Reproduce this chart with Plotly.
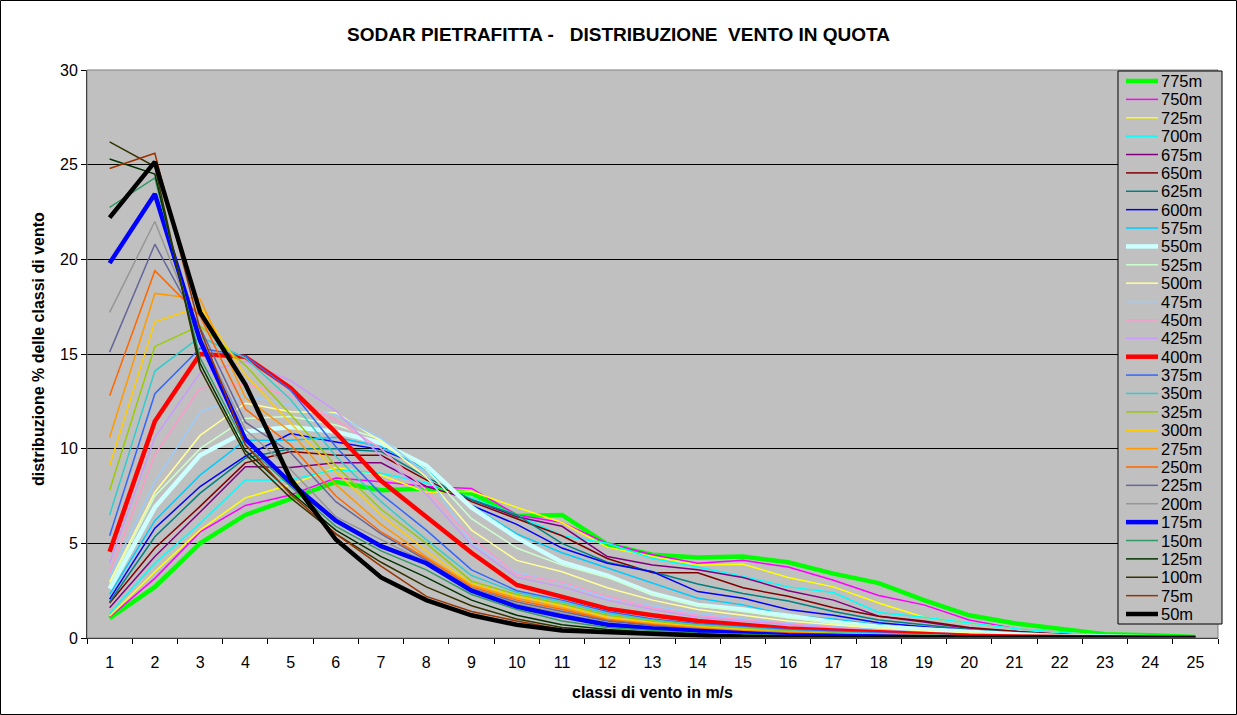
import plotly.graph_objects as go

# Wind-speed classes (m/s) used as category labels on the x axis
classes = [str(i) for i in range(1, 26)]

# Percentage distribution of wind classes for each SODAR height
v775 = [1.05, 2.7, 5.0, 6.5, 7.35, 8.25, 7.8, 7.9, 7.65, 6.45, 6.5, 4.95, 4.4, 4.25, 4.3, 4.0, 3.4, 2.9, 2.0, 1.2, 0.78, 0.47, 0.2, 0.15, 0.05]
v750 = [1.1, 3.15, 5.6, 7.0, 7.55, 8.45, 8.25, 8.0, 7.9, 6.5, 6.1, 5.0, 4.4, 3.95, 4.1, 3.75, 3.05, 2.25, 1.75, 0.95, 0.5, 0.3, 0.15, 0.1, 0.02]
v725 = [1.15, 3.5, 5.7, 7.4, 8.1, 9.0, 8.6, 7.7, 7.75, 6.9, 6.1, 4.8, 4.3, 3.85, 3.9, 3.2, 2.7, 1.85, 1.1, 0.8, 0.5, 0.3, 0.15, 0.08, 0.02]
v700 = [1.3, 3.95, 6.05, 8.35, 8.35, 8.9, 8.7, 8.2, 7.4, 6.5, 5.4, 5.0, 4.2, 3.75, 3.25, 2.7, 2.4, 1.35, 1.1, 0.8, 0.5, 0.3, 0.15, 0.08, 0.02]
v675 = [1.6, 4.3, 6.65, 9.05, 9.0, 9.25, 9.25, 8.0, 7.3, 6.4, 5.9, 4.3, 3.85, 3.6, 3.2, 2.5, 2.0, 1.15, 0.85, 0.5, 0.35, 0.2, 0.1, 0.05, 0.01]
v650 = [1.85, 4.75, 6.95, 9.25, 9.85, 9.65, 9.65, 8.35, 7.2, 6.3, 5.4, 4.2, 3.45, 3.45, 2.65, 2.2, 1.6, 1.15, 0.9, 0.55, 0.35, 0.2, 0.1, 0.05, 0.01]
v625 = [1.9, 5.35, 7.65, 9.5, 10.0, 10.0, 9.85, 8.5, 7.3, 6.5, 5.0, 4.0, 3.5, 2.85, 2.35, 1.95, 1.4, 0.95, 0.7, 0.45, 0.3, 0.18, 0.08, 0.04, 0.01]
v600 = [2.05, 5.8, 8.0, 9.6, 10.8, 10.35, 9.95, 9.0, 7.0, 6.0, 4.75, 3.95, 3.5, 2.45, 2.1, 1.5, 1.2, 0.8, 0.6, 0.4, 0.25, 0.15, 0.07, 0.03, 0.01]
v575 = [2.3, 6.2, 8.6, 10.45, 10.45, 10.6, 10.1, 8.9, 7.0, 5.5, 4.5, 3.7, 2.9, 2.1, 1.75, 1.2, 1.0, 0.7, 0.5, 0.35, 0.22, 0.12, 0.06, 0.03, 0.01]
v550 = [2.6, 6.9, 9.65, 10.9, 11.15, 10.9, 10.3, 9.1, 6.9, 5.3, 4.0, 3.3, 2.35, 1.75, 1.5, 1.15, 0.85, 0.6, 0.45, 0.3, 0.2, 0.1, 0.05, 0.02, 0.01]
v525 = [2.8, 7.5, 10.0, 11.6, 11.7, 11.25, 10.5, 8.9, 6.3, 4.75, 3.85, 3.2, 2.3, 1.7, 1.4, 1.05, 0.8, 0.55, 0.4, 0.28, 0.18, 0.1, 0.05, 0.02, 0.01]
v500 = [2.95, 7.7, 10.7, 12.4, 11.95, 11.9, 10.4, 8.5, 5.7, 4.1, 3.5, 2.65, 2.0, 1.5, 1.2, 0.9, 0.7, 0.5, 0.35, 0.25, 0.15, 0.08, 0.04, 0.02, 0.01]
v475 = [3.2, 8.25, 11.95, 12.8, 12.3, 11.8, 10.55, 8.7, 5.0, 3.45, 2.9, 2.1, 1.7, 1.3, 1.0, 0.8, 0.6, 0.45, 0.3, 0.2, 0.12, 0.07, 0.03, 0.02, 0.01]
v450 = [3.45, 9.7, 13.2, 13.4, 12.8, 11.5, 10.0, 7.8, 5.3, 3.35, 2.95, 2.2, 1.6, 1.2, 0.95, 0.75, 0.55, 0.4, 0.28, 0.18, 0.1, 0.06, 0.03, 0.01, 0.0]
v425 = [3.95, 10.6, 14.0, 14.6, 13.6, 12.0, 9.6, 7.6, 4.9, 3.2, 2.7, 2.0, 1.5, 1.1, 0.9, 0.7, 0.5, 0.35, 0.25, 0.16, 0.1, 0.05, 0.02, 0.01, 0.0]
v400 = [4.55, 11.45, 15.0, 14.85, 13.2, 10.85, 8.3, 6.4, 4.5, 2.8, 2.15, 1.55, 1.2, 0.9, 0.7, 0.5, 0.4, 0.3, 0.2, 0.12, 0.08, 0.04, 0.02, 0.01, 0.0]
v375 = [5.4, 12.9, 15.3, 14.9, 13.1, 10.1, 7.6, 5.7, 3.6, 2.5, 2.0, 1.4, 1.0, 0.75, 0.6, 0.45, 0.35, 0.25, 0.18, 0.1, 0.07, 0.04, 0.02, 0.01, 0.0]
v350 = [6.5, 14.1, 15.9, 14.8, 12.6, 9.6, 7.2, 5.2, 3.3, 2.4, 1.9, 1.3, 0.95, 0.7, 0.55, 0.4, 0.3, 0.22, 0.15, 0.09, 0.06, 0.03, 0.02, 0.01, 0.0]
v325 = [7.8, 15.4, 16.5, 14.4, 11.8, 9.1, 6.8, 5.0, 3.0, 2.3, 1.8, 1.2, 0.9, 0.65, 0.5, 0.35, 0.25, 0.2, 0.13, 0.08, 0.05, 0.03, 0.01, 0.0, 0.0]
v300 = [9.1, 16.7, 17.5, 13.9, 11.35, 8.8, 6.5, 4.6, 2.85, 2.2, 1.7, 1.1, 0.8, 0.6, 0.45, 0.3, 0.22, 0.18, 0.12, 0.07, 0.05, 0.02, 0.01, 0.0, 0.0]
v275 = [10.6, 18.2, 17.9, 12.7, 10.9, 8.1, 6.0, 4.3, 2.8, 2.1, 1.6, 1.0, 0.75, 0.55, 0.4, 0.3, 0.2, 0.15, 0.1, 0.06, 0.04, 0.02, 0.01, 0.0, 0.0]
v250 = [12.8, 19.4, 17.0, 12.1, 10.2, 7.5, 5.6, 4.2, 2.7, 2.0, 1.5, 0.95, 0.7, 0.5, 0.35, 0.25, 0.18, 0.13, 0.09, 0.05, 0.03, 0.02, 0.01, 0.0, 0.0]
v225 = [15.1, 20.8, 16.4, 11.4, 9.8, 7.2, 5.5, 4.1, 2.6, 1.9, 1.4, 0.9, 0.65, 0.45, 0.3, 0.2, 0.15, 0.12, 0.08, 0.05, 0.03, 0.01, 0.0, 0.0, 0.0]
v200 = [17.2, 22.0, 16.0, 11.0, 8.9, 6.4, 5.2, 4.0, 2.6, 1.8, 1.3, 0.8, 0.6, 0.4, 0.3, 0.2, 0.14, 0.1, 0.07, 0.04, 0.02, 0.01, 0.0, 0.0, 0.0]
v175 = [19.8, 23.45, 15.7, 10.5, 8.2, 6.2, 4.85, 3.95, 2.5, 1.65, 1.15, 0.7, 0.5, 0.35, 0.25, 0.15, 0.1, 0.08, 0.05, 0.03, 0.02, 0.01, 0.0, 0.0, 0.0]
v150 = [22.75, 24.3, 14.8, 10.2, 8.0, 5.9, 4.6, 3.6, 2.3, 1.5, 0.9, 0.55, 0.4, 0.25, 0.2, 0.12, 0.08, 0.06, 0.04, 0.02, 0.01, 0.0, 0.0, 0.0, 0.0]
v125 = [25.3, 24.5, 14.5, 9.9, 7.7, 5.7, 4.3, 3.2, 2.0, 1.2, 0.7, 0.45, 0.3, 0.2, 0.15, 0.1, 0.06, 0.05, 0.03, 0.02, 0.01, 0.0, 0.0, 0.0, 0.0]
v100 = [26.2, 24.9, 14.2, 9.7, 7.4, 5.5, 4.0, 2.7, 1.7, 1.0, 0.55, 0.35, 0.2, 0.15, 0.1, 0.08, 0.05, 0.04, 0.02, 0.01, 0.0, 0.0, 0.0, 0.0, 0.0]
v75 = [24.8, 25.6, 16.3, 10.2, 7.6, 5.5, 3.8, 2.2, 1.4, 0.9, 0.45, 0.3, 0.2, 0.1, 0.08, 0.05, 0.03, 0.02, 0.01, 0.0, 0.0, 0.0, 0.0, 0.0, 0.0]
v50 = [22.2, 25.15, 17.2, 13.4, 8.4, 5.2, 3.2, 2.0, 1.2, 0.7, 0.4, 0.3, 0.2, 0.1, 0.05, 0.03, 0.02, 0.01, 0.0, 0.0, 0.0, 0.0, 0.0, 0.0, 0.0]

heights = ["775m", "750m", "725m", "700m", "675m", "650m", "625m", "600m", "575m", "550m",
           "525m", "500m", "475m", "450m", "425m", "400m", "375m", "350m", "325m", "300m",
           "275m", "250m", "225m", "200m", "175m", "150m", "125m", "100m", "75m", "50m"]
series = [v775, v750, v725, v700, v675, v650, v625, v600, v575, v550,
          v525, v500, v475, v450, v425, v400, v375, v350, v325, v300,
          v275, v250, v225, v200, v175, v150, v125, v100, v75, v50]

colors = ["#00FF00", "#FF00FF", "#FFFF00", "#00FFFF", "#800080", "#800000", "#008080", "#0000FF", "#00CCFF", "#CCFFFF",
          "#CCFFCC", "#FFFF99", "#99CCFF", "#FF99CC", "#CC99FF", "#FF0000", "#3366FF", "#33CCCC", "#99CC00", "#FFCC00",
          "#FF9900", "#FF6600", "#666699", "#969696", "#0000FF", "#339966", "#003300", "#333300", "#993300", "#000000"]
bold_heights = {"775m", "550m", "400m", "175m", "50m"}

FONT = "Arial, 'Liberation Sans', sans-serif"

W, H = 1237, 715
L, R, T, B = 87, 19, 70, 77
PW, PH = W - L - R, H - T - B


def px_x(x):
    return (x - L) / PW


def px_y(y):
    return (H - B - y) / PH


def line_width(name):
    return 4.5 if name in bold_heights else 1.5


fig = go.Figure()
for name, ys, col in zip(heights, series, colors):
    fig.add_trace(go.Scatter(
        x=classes, y=ys, mode="lines", name=name, showlegend=False,
        line=dict(color=col, width=line_width(name)),
    ))

# Compact key box on the right side of the plot area (Excel-style row pitch)
KEY_LEFT, KEY_RIGHT, KEY_TOP, KEY_BOTTOM = 1118, 1222, 71, 624
ROW0, ROW_STEP = 81, 18.38
key_shapes = [dict(type="rect", xref="paper", yref="paper", layer="above",
                   x0=px_x(KEY_LEFT), x1=px_x(KEY_RIGHT), y0=px_y(KEY_BOTTOM), y1=px_y(KEY_TOP),
                   line=dict(color="black", width=1), fillcolor="#C0C0C0")]
key_texts = []
for i, (name, col) in enumerate(zip(heights, colors)):
    yy = px_y(ROW0 + i * ROW_STEP)
    key_shapes.append(dict(type="line", xref="paper", yref="paper", layer="above",
                           x0=px_x(1126), x1=px_x(1158), y0=yy, y1=yy,
                           line=dict(color=col, width=line_width(name))))
    key_texts.append(dict(text=name, xref="paper", yref="paper", x=px_x(1159), y=yy,
                          xanchor="left", yanchor="middle", showarrow=False,
                          font=dict(size=16.5, family=FONT, color="black")))

fig.update_layout(
    width=W, height=H,
    margin=dict(l=L, r=R, t=T, b=B),
    paper_bgcolor="white",
    plot_bgcolor="#C0C0C0",
    font=dict(family=FONT, size=16, color="black"),
    title=dict(text="<b>SODAR PIETRAFITTA -   DISTRIBUZIONE  VENTO IN QUOTA</b>",
               x=0.5, xref="container", xanchor="center",
               y=1 - 34 / H, yref="container", yanchor="middle",
               font=dict(size=19, family=FONT, color="black")),
    showlegend=False,
    xaxis=dict(type="category", range=[-0.5, 24.5], tickson="boundaries",
               ticks="outside", ticklen=5,
               tickcolor="black", showline=True, linecolor="black", linewidth=1,
               showgrid=False, zeroline=False, ticklabelstandoff=10,
               tickfont=dict(size=16, family=FONT)),
    yaxis=dict(range=[0, 30], tickvals=[0, 5, 10, 15, 20, 25, 30], ticks="outside", ticklen=5,
               tickcolor="black", showline=True, linecolor="black", linewidth=1,
               showgrid=True, gridcolor="black", gridwidth=1, zeroline=False,
               tickfont=dict(size=16, family=FONT)),
    annotations=[
        dict(text="<b>distribuzione % delle classi di vento</b>", textangle=-90,
             xref="paper", yref="paper", x=px_x(38), y=px_y(349),
             xanchor="center", yanchor="middle", showarrow=False,
             font=dict(size=16, family=FONT)),
        dict(text="<b>classi di vento in m/s</b>",
             xref="paper", yref="paper", x=0.5, y=px_y(692),
             xanchor="center", yanchor="middle", showarrow=False,
             font=dict(size=16, family=FONT)),
    ] + key_texts,
    shapes=[
        # outer frame of the chart area
        dict(type="rect", xref="paper", yref="paper",
             x0=px_x(0.5), x1=px_x(1236.5), y0=px_y(714.5), y1=px_y(0.5),
             line=dict(color="black", width=1), fillcolor="rgba(0,0,0,0)", layer="below"),
        # plot area border
        dict(type="rect", xref="paper", yref="paper", x0=0, x1=1, y0=0, y1=1,
             line=dict(color="#808080", width=1), fillcolor="rgba(0,0,0,0)", layer="above"),
    ] + key_shapes,
)

fig.write_html("out.html")
